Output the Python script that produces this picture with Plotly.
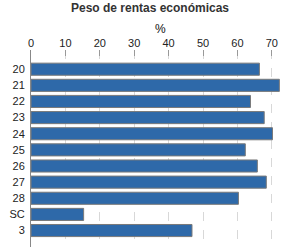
import plotly.graph_objects as go

categories = ["20", "21", "22", "23", "24", "25", "26", "27", "28", "SC", "3"]
values = [66.4, 72.2, 63.8, 67.8, 70.2, 62.3, 65.8, 68.4, 60.3, 15.3, 46.8]
tick_vals = [0, 10, 20, 30, 40, 50, 60, 70]
axis_title = "%"

fig = go.Figure(go.Bar(
    y=categories, x=values, orientation="h", width=0.75,
    marker=dict(color="#2e69a9", line=dict(color="#7a7a7a", width=1)),
))

fig.update_layout(
    width=300, height=250,
    margin=dict(l=31, r=11, t=50, b=3),
    paper_bgcolor="white", plot_bgcolor="white",
    font=dict(family="Liberation Sans, Arial, sans-serif", size=11, color="#222"),
    title=dict(text="<b>Peso de rentas económicas</b>", x=0.5, xanchor="center",
               y=1 - 8/250, yanchor="middle",
               font=dict(size=12, color="#333")),
    showlegend=False,
    bargap=0.25,
)
fig.add_annotation(text=axis_title, xref="paper", yref="paper", x=0.5, y=1 + 21/197,
                   xanchor="center", yanchor="middle", showarrow=False,
                   font=dict(size=12, color="#111111"))
fig.update_xaxes(
    side="top", range=[0, 75], tickvals=tick_vals,
    ticks="inside", ticklen=6, tickcolor="#999",
    showgrid=True, gridcolor="#d8d8d8", griddash="dash", gridwidth=1,
    zeroline=False, showline=False,
    tickfont=dict(size=11, color="#222"),
)
fig.update_yaxes(
    type="category", categoryorder="array", categoryarray=categories,
    range=[11.02, -1.19], showline=True, linecolor="#888", linewidth=1,
    ticks="", showgrid=False, ticklabelstandoff=3,
    tickfont=dict(size=11, color="#222"),
)

fig.write_html("out.html")
